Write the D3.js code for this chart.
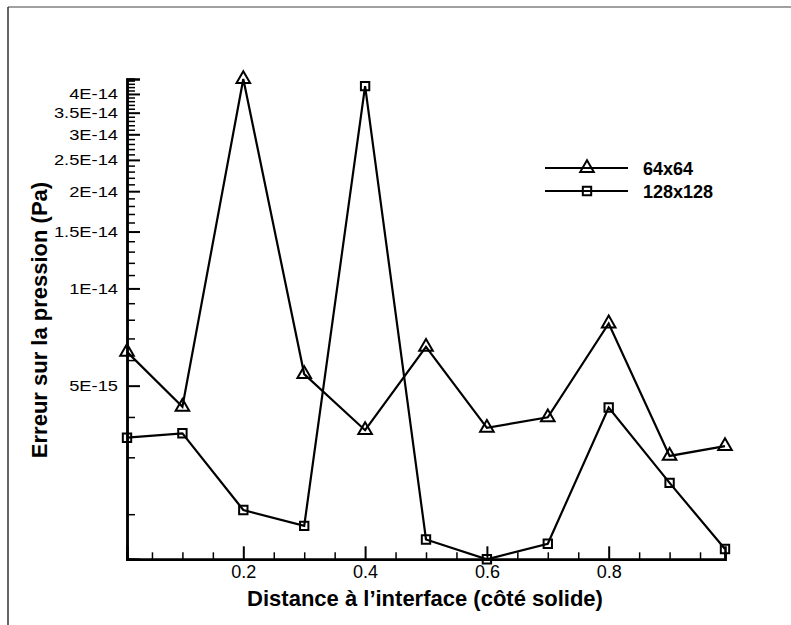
<!DOCTYPE html>
<html><head><meta charset="utf-8">
<script src="https://cdn.jsdelivr.net/npm/d3@7"></script>
<style>body{margin:0;background:#fff}svg{display:block}text{font-family:"Liberation Sans",Arial,sans-serif}</style>
</head><body>
<svg id="c" width="791" height="625"></svg>
<script>
const xValues = [0.009, 0.1, 0.2, 0.3, 0.4, 0.5, 0.6, 0.7, 0.8, 0.9, 0.991];
const series64 = [6.36e-15, 4.30e-15, 4.45e-14, 5.43e-15, 3.64e-15, 6.59e-15, 3.70e-15, 3.99e-15, 7.79e-15, 3.03e-15, 3.25e-15];
const series128 = [3.45e-15, 3.56e-15, 2.06e-15, 1.84e-15, 4.23e-14, 1.67e-15, 1.45e-15, 1.62e-15, 4.28e-15, 2.50e-15, 1.56e-15];
const seriesNames = ["64x64", "128x128"];
const xMajorTicks = [0.2, 0.4, 0.6, 0.8];
const xMinorTicks = [0.05, 0.1, 0.15, 0.25, 0.3, 0.35, 0.45, 0.5, 0.55, 0.65, 0.7, 0.75, 0.85, 0.9, 0.95];
const yMajorTicks = [5e-15, 1e-14, 1.5e-14, 2e-14, 2.5e-14, 3e-14, 3.5e-14, 4e-14];
const yMajorLabels = ["5E-15", "1E-14", "1.5E-14", "2E-14", "2.5E-14", "3E-14", "3.5E-14", "4E-14"];
const yMinorTicks = [2e-15, 3e-15, 4e-15, 6e-15, 7e-15, 8e-15, 9e-15,
  1.1e-14, 1.2e-14, 1.3e-14, 1.4e-14, 1.6e-14, 1.7e-14, 1.8e-14, 1.9e-14,
  2.1e-14, 2.2e-14, 2.3e-14, 2.4e-14, 2.6e-14, 2.7e-14, 2.8e-14, 2.9e-14,
  3.1e-14, 3.2e-14, 3.3e-14, 3.4e-14, 3.6e-14, 3.7e-14, 3.8e-14, 3.9e-14,
  4.1e-14, 4.2e-14, 4.3e-14, 4.4e-14];

const svg = d3.select("#c");
const x = d3.scaleLinear().domain([0.009, 0.991]).range([127, 725]);
const y = d3.scaleLog().domain([1.45e-15, 4.45e-14]).range([559.3, 79]);

// frame
svg.append("line").attr("x1", 8).attr("x2", 791).attr("y1", 7).attr("y2", 7).attr("stroke", "#808080").attr("stroke-width", 1.5);
svg.append("line").attr("x1", 8).attr("x2", 8).attr("y1", 7).attr("y2", 625).attr("stroke", "#333").attr("stroke-width", 1.5);

// axes
const xAxisMajor = d3.axisBottom(x).tickValues(xMajorTicks).tickSize(-13).tickPadding(6).tickFormat(d3.format(".1f"));
const xAxisMinor = d3.axisBottom(x).tickValues(xMinorTicks).tickSize(-7).tickFormat("");
const gx = svg.append("g").attr("transform", "translate(0,559.3)").call(xAxisMajor);
const gxm = svg.append("g").attr("transform", "translate(0,559.3)").call(xAxisMinor);
const yAxisMajor = d3.axisLeft(y).tickValues(yMajorTicks).tickSize(-13).tickPadding(9).tickFormat((d, i) => yMajorLabels[i]);
const yAxisMinor = d3.axisLeft(y).tickValues(yMinorTicks).tickSize(-8).tickFormat("");
const gy = svg.append("g").attr("transform", "translate(127,0)").call(yAxisMajor);
const gym = svg.append("g").attr("transform", "translate(127,0)").call(yAxisMinor);
[gx, gxm, gy, gym].forEach(g => {
  g.attr("font-size", null).attr("font-family", null);
  g.select(".domain").attr("stroke", "#000").attr("stroke-width", 2.5);
  g.selectAll(".tick line").attr("stroke", "#000").attr("stroke-width", 2);
  g.selectAll("text").style("font-size", "18px").attr("fill", "#000").style("font-family", "'Liberation Sans', Arial, sans-serif");
});
// y tick labels: slightly shorter glyphs, same width as the reference
gy.selectAll("text").style("font-size", "15.5px").each(function () {
  const w = this.getComputedTextLength();
  d3.select(this).attr("textLength", w * 1.18).attr("lengthAdjust", "spacingAndGlyphs");
});
gym.selectAll(".tick line").attr("stroke-width", 1.5);
gxm.selectAll(".tick line").attr("stroke-width", 1.5);

// lines
const line = d3.line().x((d, i) => x(xValues[i])).y(d => y(d));
const tri = d3.symbol().type(d3.symbolTriangle).size(80);
const sq = d3.symbol().type(d3.symbolSquare).size(70);
[[series64, tri], [series128, sq]].forEach(([s, sym]) => {
  svg.append("path").datum(s).attr("d", line).attr("fill", "none").attr("stroke", "#000").attr("stroke-width", 2.2);
  svg.selectAll(null).data(s).enter().append("path")
    .attr("d", sym)
    .attr("transform", (d, i) => `translate(${x(xValues[i])},${y(d)})`)
    .attr("fill", "none").attr("stroke", "#000").attr("stroke-width", 2);
});

// legend
const legendY = [168, 191];
const legendSyms = [tri, sq];
seriesNames.forEach((n, i) => {
  svg.append("line").attr("x1", 545).attr("x2", 628).attr("y1", legendY[i]).attr("y2", legendY[i]).attr("stroke", "#000").attr("stroke-width", 2.2);
  svg.append("path").attr("d", legendSyms[i]).attr("transform", `translate(587,${legendY[i]})`).attr("fill", "none").attr("stroke", "#000").attr("stroke-width", 2);
  svg.append("text").attr("x", 643).attr("y", legendY[i] + 6.5).style("font-size", "18px").attr("font-weight", "bold").text(n);
});

// axis titles
svg.append("text").attr("x", 425).attr("y", 606).attr("text-anchor", "middle").style("font-size", "22px").attr("font-weight", "bold").text("Distance à l’interface (côté solide)");
svg.append("text").attr("transform", "translate(47,320) rotate(-90)").attr("text-anchor", "middle").style("font-size", "22px").attr("font-weight", "bold").text("Erreur sur la pression (Pa)");
</script>
</body></html>
